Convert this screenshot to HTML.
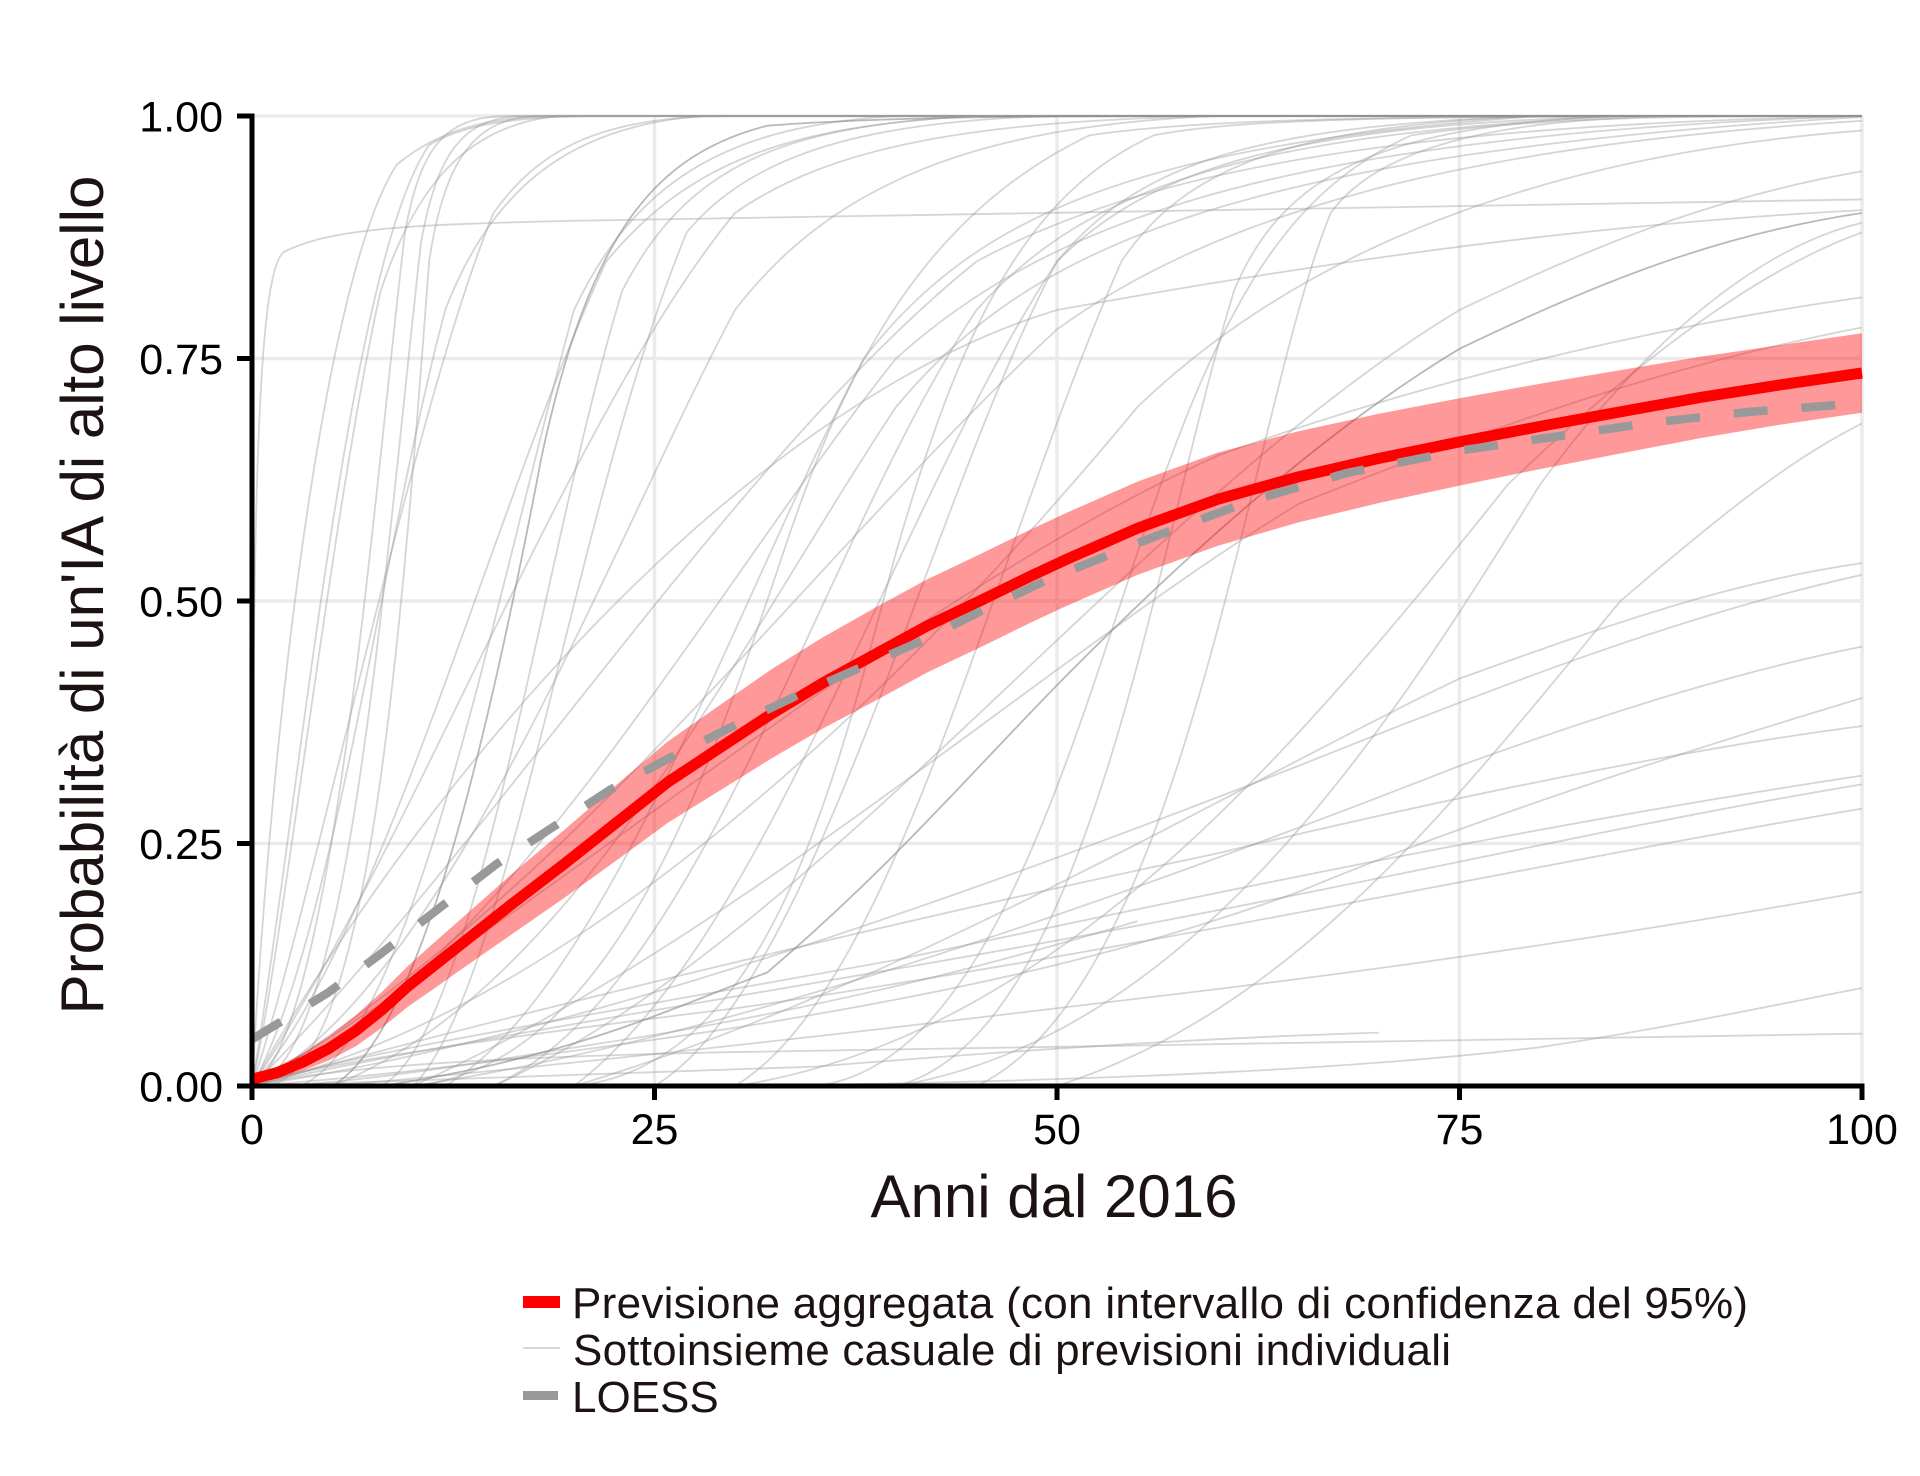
<!DOCTYPE html>
<html>
<head>
<meta charset="utf-8">
<style>
html,body{margin:0;padding:0;background:#fff;}
svg{display:block;}
.gl path{vector-effect:non-scaling-stroke;}
text{font-family:"Liberation Sans",Arial,Helvetica,sans-serif;}
</style>
</head>
<body>
<svg width="1920" height="1476" viewBox="0 0 1920 1476" xmlns="http://www.w3.org/2000/svg">
<rect x="0" y="0" width="1920" height="1476" fill="#ffffff"/>

<!-- grid -->
<g stroke="#ebebeb" stroke-width="3.5" fill="none">
  <line x1="252" y1="116" x2="1862" y2="116"/>
  <line x1="252" y1="358.5" x2="1862" y2="358.5"/>
  <line x1="252" y1="601" x2="1862" y2="601"/>
  <line x1="252" y1="843.5" x2="1862" y2="843.5"/>
  <line x1="654.5" y1="116" x2="654.5" y2="1086"/>
  <line x1="1057" y1="116" x2="1057" y2="1086"/>
  <line x1="1459.5" y1="116" x2="1459.5" y2="1086"/>
  <line x1="1862" y1="116" x2="1862" y2="1086"/>
</g>

<!-- individual forecasts (data coords) -->
<g class="gl" transform="matrix(16.1 0 0 -970 252 1086)" fill="none" stroke="#9a9a9a" stroke-opacity="0.42" stroke-width="1.8">
  <path d="M0,0 C1.5,0.45 5,0.85 9,0.95 C12,0.99 15,1 20,1 H100"/>
  <path d="M0,0 C3,0.3 6,0.85 11,0.97 C13,0.99 16,1 22,1 H100"/>
  <path d="M0,0 C5,0.05 7.5,0.6 9.5,0.88 C10.5,0.97 12,1 16,1 H100"/>
  <path d="M0,0 C6,0.02 8,0.5 10.5,0.87 C11.5,0.96 13,1 17,1 H100"/>
  <path d="M1,0 C7,0.02 9,0.4 11,0.85 C12,0.96 14,1 18,1 H100"/>
  <path d="M0,0 C2,0.15 5,0.6 8,0.82 C10,0.92 13,0.99 19,1 H100"/>
  <path d="M0,0 C4,0.2 10,0.7 15,0.9 C18,0.97 22,1 30,1 H100"/>
  <path d="M0,0 C5,0.15 8,0.55 12,0.8 C15,0.93 20,0.99 28,1 H100"/>
  <path d="M0,0 C8,0.15 15,0.6 22,0.85 C27,0.95 33,0.99 45,1 H100"/>
  <path d="M3,0 C10,0.05 15,0.5 20,0.8 C24,0.94 30,0.99 40,1 H100"/>
  <path d="M0,0 C10,0.25 20,0.7 30,0.9 C36,0.97 45,0.995 60,1 H100"/>
  <path d="M8,0 C14,0.05 18,0.55 23,0.82 C27,0.95 33,0.99 45,1 H100"/>
  <path d="M0,0 C12,0.1 22,0.55 30,0.8 C36,0.93 45,0.99 60,1 H100"/>
  <path d="M10,0 C16,0.1 20,0.6 27,0.88 C31,0.96 38,0.995 50,1 H100"/>
  <path d="M0,0 C15,0.25 30,0.65 45,0.85 C55,0.94 70,0.99 100,1"/>
  <path d="M0,0 C15,0.1 28,0.5 40,0.75 C50,0.9 65,0.98 100,1"/>
  <path d="M5,0 C20,0.1 30,0.45 40,0.7 C48,0.86 60,0.96 100,0.999"/>
  <path d="M12,0 C22,0.1 30,0.5 38,0.75 C45,0.9 55,0.97 80,1 H100"/>
  <path d="M0,0 C20,0.2 35,0.55 50,0.78 C60,0.9 75,0.97 100,0.995"/>
  <path d="M15,0 C28,0.1 35,0.55 45,0.8 C52,0.93 62,0.98 85,1 H100"/>
  <path d="M20,0 C32,0.15 40,0.6 50,0.85 C56,0.95 65,0.99 85,1 H100"/>
  <path d="M25,0 C35,0.1 42,0.6 50,0.85 C55,0.95 62,0.99 80,1 H100"/>
  <path d="M30,0 C40,0.1 46,0.55 54,0.85 C58,0.95 65,0.99 80,1 H100"/>
  <path d="M40,0 C52,0.05 56,0.55 61,0.82 C64,0.94 70,0.99 85,1 H100"/>
  <path d="M45,0 C58,0.1 62,0.7 67,0.9 C70,0.97 78,1 90,1 H100"/>
  <path d="M0,0 C20,0.08 40,0.4 55,0.7 C65,0.86 80,0.96 100,0.985"/>
  <path d="M20,0 C32,0.02 36,0.3 40,0.55 C44,0.78 48,0.92 56,0.98 C62,1 75,1 100,1"/>
  <path d="M10,0 C22,0.02 28,0.3 33,0.55 C37,0.75 42,0.9 52,0.98 C60,1 75,1 100,1"/>
  <path d="M35,0 C45,0.02 50,0.3 55,0.55 C60,0.8 64,0.92 72,0.98 C80,1 90,1 100,1"/>
  <path d="M0,0 C0,0.6 0.3,0.84 2,0.86 C5,0.885 10,0.888 20,0.892 C50,0.902 80,0.91 100,0.914"/>
  <path d="M15,0 C35,0.15 55,0.6 75,0.8 C85,0.88 92,0.92 100,0.943"/>
  <path d="M0,0 C10,0.3 30,0.7 50,0.8 C70,0.86 85,0.89 100,0.903"/>
  <path d="M40,0 C58,0.05 70,0.35 80,0.62 C88,0.8 95,0.87 100,0.89"/>
  <path d="M30,0 C50,0.05 65,0.35 78,0.62 C88,0.78 95,0.85 100,0.88"/>
  <path d="M0,0 C20,0.2 40,0.5 60,0.65 C75,0.74 90,0.79 100,0.813"/>
  <path d="M10,0 C30,0.15 50,0.45 65,0.6 C80,0.7 90,0.75 100,0.782"/>
  <path d="M50,0 C65,0.08 75,0.3 85,0.5 C92,0.6 96,0.65 100,0.683"/>
  <path d="M20,0 C40,0.1 60,0.3 75,0.42 C85,0.48 92,0.52 100,0.539"/>
  <path d="M0,0 C20,0.05 45,0.2 65,0.33 C80,0.43 90,0.49 100,0.527"/>
  <path d="M10,0 C30,0.05 55,0.2 75,0.33 C85,0.39 93,0.43 100,0.453"/>
  <path d="M0,0 C15,0.07 40,0.17 60,0.24 C75,0.3 90,0.35 100,0.371"/>
  <path d="M0,0 C5,0.03 20,0.07 40,0.13 C60,0.2 80,0.27 100,0.32"/>
  <path d="M0,0 C10,0.04 30,0.09 50,0.15 C70,0.21 85,0.27 100,0.311"/>
  <path d="M0,0 C3,0.02 15,0.05 30,0.08 C55,0.14 80,0.23 100,0.286"/>
  <path d="M5,0 C25,0.03 45,0.07 60,0.1 C75,0.13 90,0.17 100,0.2"/>
  <path d="M30,0 C55,0.005 70,0.02 80,0.04 C88,0.06 95,0.085 100,0.101"/>
  <path d="M0,0 C5,0.02 15,0.03 30,0.035 C60,0.045 80,0.05 100,0.054"/>
  <path d="M0,0 C10,0.005 20,0.012 35,0.02 C50,0.04 60,0.05 70,0.055"/>
  <path d="M0,0 C8,0.01 18,0.03 30,0.06 C45,0.1 55,0.14 65,0.2 C75,0.27 88,0.34 100,0.4"/>
  <path d="M2,0 C10,0.01 16,0.03 24,0.05 C35,0.08 45,0.12 55,0.17"/>
</g>
<g class="gl" transform="matrix(16.1 0 0 -970 252 1086)" fill="none" stroke="#8a8a8a" stroke-opacity="0.6" stroke-width="1.8">
  <path d="M5,0 C10,0.05 14,0.3 18,0.65 C21,0.88 25,0.96 32,0.99 C40,1 50,1 60,1 H100"/>
  <path d="M8,0 C20,0.03 26,0.08 32,0.117 C40,0.23 45,0.33 51,0.43 C60,0.58 68,0.69 75,0.76 C85,0.84 92,0.88 100,0.9"/>
</g>

<!-- confidence band -->
<polygon fill="#ff0000" fill-opacity="0.4" points="252,1075.3 277.8,1066.4 303.5,1053.1 329.3,1036.2 355.8,1015.2 382.4,991.4 408.2,965.7 433.9,942.7 459.7,920.1 511.2,874.5 564.3,829.9 615.9,785.3 667.4,741.7 718.9,705.7 772,668.9 823.6,636.9 875.1,607.7 926.6,579.6 979.7,554.4 1031.2,529.2 1066.7,512.7 1137.5,481.65 1218,452.55 1298.5,431.2 1379,413.8 1459.5,398.2 1540,383.7 1620.5,370.1 1701,356.6 1781.5,344.9 1862,333.2 1862,412.8 1781.5,424.5 1701,438 1620.5,453.5 1540,469.1 1459.5,485.6 1379,503 1298.5,522.4 1218,545.75 1137.5,574.85 1066.7,605.9 1031.2,622.4 979.7,647.6 926.6,672.8 875.1,700.9 823.6,728.1 772,758.1 718.9,791.1 667.4,823.1 615.9,860.9 564.3,897.9 511.2,934.7 459.7,970.5 433.9,988.7 408.2,1006.5 382.4,1027.4 355.8,1046.2 329.3,1060.2 303.5,1070.5 277.8,1078.4 252,1083.1"/>

<!-- aggregate forecast -->
<polyline fill="none" stroke="#ff0000" stroke-width="11" stroke-linejoin="round" points="252,1079.2 277.8,1072.4 303.5,1061.8 329.3,1048.2 355.8,1030.7 382.4,1009.4 408.2,986.1 433.9,965.7 459.7,945.3 511.2,904.6 564.3,863.9 615.9,823.1 667.4,782.4 718.9,748.4 772,713.5 823.6,682.5 875.1,654.3 926.6,626.2 979.7,601 1031.2,575.8 1066.7,559.3 1137.5,528.25 1218,499.15 1298.5,476.8 1379,458.4 1459.5,441.9 1540,426.4 1620.5,411.8 1701,397.3 1781.5,384.7 1862,373"/>

<!-- LOESS -->
<polyline fill="none" stroke="#999999" stroke-width="8.5" stroke-dasharray="34 34" stroke-linejoin="round" points="252,1039.4 327.7,992.9 379.2,955 438.8,908.5 496.7,863.9 553.1,827 611,789.2 667.4,759.1 735,725.2 797.8,695.1 857.4,668.9 921.8,640.8 979.7,611.7 1047.3,579.7 1153.6,537 1250.2,501.1 1346.8,473 1459.5,450.6 1652.7,422.5 1749.3,411.85 1862,403.1"/>

<!-- axes -->
<g stroke="#000" stroke-width="5" fill="none">
  <path d="M252,113.5 V1086 H1864.5"/>
  <line x1="237" y1="116" x2="252" y2="116"/>
  <line x1="237" y1="358.5" x2="252" y2="358.5"/>
  <line x1="237" y1="601" x2="252" y2="601"/>
  <line x1="237" y1="843.5" x2="252" y2="843.5"/>
  <line x1="237" y1="1086" x2="252" y2="1086"/>
  <line x1="252" y1="1086" x2="252" y2="1100"/>
  <line x1="654.5" y1="1086" x2="654.5" y2="1100"/>
  <line x1="1057" y1="1086" x2="1057" y2="1100"/>
  <line x1="1459.5" y1="1086" x2="1459.5" y2="1100"/>
  <line x1="1862" y1="1086" x2="1862" y2="1100"/>
</g>

<!-- tick labels -->
<g font-size="43" fill="#000" text-anchor="end">
  <text x="223" y="131.5">1.00</text>
  <text x="223" y="374">0.75</text>
  <text x="223" y="616.5">0.50</text>
  <text x="223" y="859">0.25</text>
  <text x="223" y="1101.5">0.00</text>
</g>
<g font-size="43" fill="#000" text-anchor="middle">
  <text x="252" y="1144">0</text>
  <text x="654.5" y="1144">25</text>
  <text x="1057" y="1144">50</text>
  <text x="1459.5" y="1144">75</text>
  <text x="1862" y="1144">100</text>
</g>

<!-- axis titles -->
<text x="1054" y="1217" font-size="60" fill="#1c1212" text-anchor="middle">Anni dal 2016</text>
<text transform="rotate(-90)" x="-595" y="103" font-size="60" fill="#1c1212" text-anchor="middle">Probabilità di un'IA di alto livello</text>

<!-- legend -->
<rect x="523" y="1296" width="37" height="12" fill="#ff0000"/>
<line x1="523" y1="1348" x2="560" y2="1348" stroke="#d6d6d6" stroke-width="2"/>
<rect x="523" y="1391" width="35" height="9" fill="#999999"/>
<g font-size="44" fill="#1c1212">
  <text x="572" y="1318" textLength="1176" lengthAdjust="spacing">Previsione aggregata (con intervallo di confidenza del 95%)</text>
  <text x="573" y="1365" textLength="878" lengthAdjust="spacing">Sottoinsieme casuale di previsioni individuali</text>
  <text x="572" y="1412">LOESS</text>
</g>
</svg>
</body>
</html>
